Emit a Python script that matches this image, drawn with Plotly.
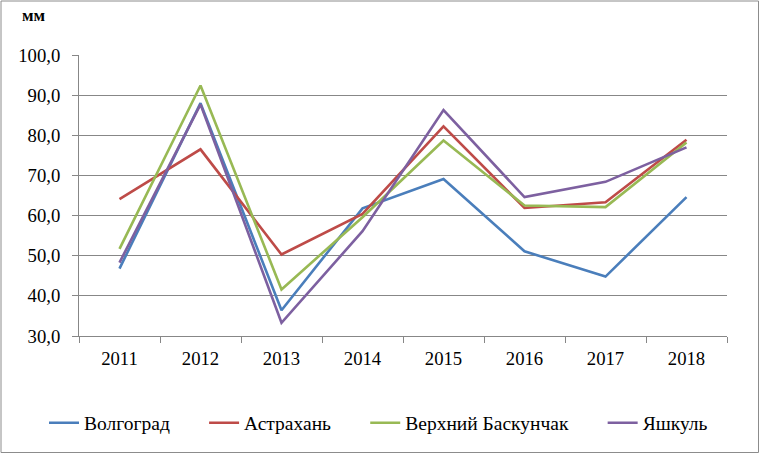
import plotly.graph_objects as go

years = ['2011', '2012', '2013', '2014', '2015', '2016', '2017', '2018']
volgograd = [46.8, 88.0, 36.4, 61.8, 69.1, 51.1, 44.8, 64.6]
astrakhan = [64.1, 76.5, 50.3, 60.4, 82.2, 61.9, 63.3, 78.9]
baskunchak = [51.7, 92.4, 41.6, 59.6, 78.7, 62.5, 62.1, 78.2]
yashkul = [48.3, 87.7, 33.3, 56.1, 86.3, 64.6, 68.4, 77.0]

series = [
    ('Волгоград', volgograd, '#4A7EBB'),
    ('Астрахань', astrakhan, '#BE4B48'),
    ('Верхний Баскунчак', baskunchak, '#98B954'),
    ('Яшкуль', yashkul, '#7D60A0'),
]

FONT = 'Liberation Serif'
FS = 18.7
GRID = '#878787'
PAD = '\u00a0' * 6  # widen the gaps between legend entries like Excel does

fig = go.Figure()
for i, (name, vals, color) in enumerate(series):
    label = name if i == len(series) - 1 else name + PAD
    fig.add_trace(go.Scatter(
        x=years, y=vals, name=label, mode='lines',
        line=dict(color=color, width=2.6),
    ))

# plot area in px: x 79..727, y 55..336
fig.update_layout(
    width=760, height=454,
    margin=dict(l=79, r=33, t=55, b=118, autoexpand=False),
    paper_bgcolor='white',
    plot_bgcolor='white',
    separators=', ',
    font=dict(family=FONT, size=FS, color='black'),
    showlegend=True,
    legend=dict(
        orientation='h',
        xref='paper', yref='paper',
        # anchored left of the plot area so the row may use the whole width
        x=(44 - 79) / 648, xanchor='left',
        y=(336 - 423) / 281, yanchor='middle',
        font=dict(family=FONT, size=19.5, color='black'),
        itemwidth=30,
        itemclick=False,
    ),
    xaxis=dict(
        type='category',
        showgrid=False,
        showline=True, linecolor=GRID, linewidth=1,
        ticks='outside', ticklen=6, tickcolor=GRID,
        tickson='boundaries',
        ticklabelstandoff=6,
        range=[-0.5, 7.5],
        tickfont=dict(family=FONT, size=FS),
    ),
    yaxis=dict(
        range=[30, 100],
        dtick=10,
        tickformat='.1f',
        showgrid=True, gridcolor=GRID, gridwidth=1,
        showline=True, linecolor=GRID, linewidth=1,
        ticks='outside', ticklen=6, tickcolor=GRID,
        ticklabelstandoff=8,
        zeroline=False,
        tickfont=dict(family=FONT, size=FS),
    ),
    annotations=[dict(
        text='<b>мм</b>',
        xref='paper', yref='paper',
        x=(20 - 79) / 648, xanchor='left',
        y=(336 - 16) / 281, yanchor='middle',
        showarrow=False,
        font=dict(family=FONT, size=17, color='black'),
    )],
    shapes=[dict(
        type='rect', xref='paper', yref='paper',
        x0=(1 - 79) / 648, x1=(758.5 - 79) / 648,
        y0=(336 - 452.5) / 281, y1=(336 - 1) / 281,
        line=dict(color='#8c8c8c', width=1),
        fillcolor='rgba(0,0,0,0)',
        layer='below',
    )],
)

fig.write_html('out.html', config={'displayModeBar': False},
               post_script="document.body.style.margin='0';")
